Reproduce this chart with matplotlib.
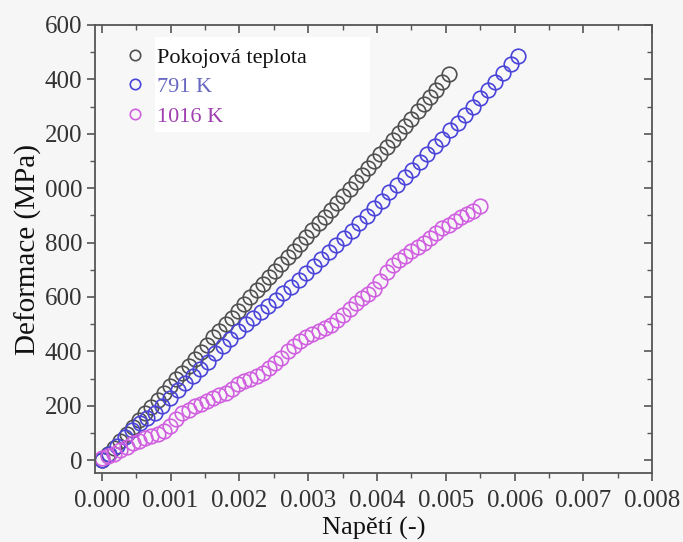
import numpy as np
import matplotlib.pyplot as plt
from matplotlib.lines import Line2D
from matplotlib.patches import Rectangle

plt.rcParams['font.family'] = ['Liberation Serif', 'DejaVu Serif']

# strain (x 1e-3) and stress (MPa)
room_x = [0.00, 0.09, 0.18, 0.27, 0.36, 0.45, 0.54, 0.63, 0.72, 0.81, 0.90, 0.99,
          1.08, 1.17, 1.26, 1.35, 1.44, 1.53, 1.62, 1.71, 1.80, 1.89, 1.98, 2.07,
          2.16, 2.25, 2.34, 2.43, 2.52, 2.61, 2.70, 2.79, 2.88, 2.97, 3.06, 3.15,
          3.24, 3.33, 3.42, 3.51, 3.60, 3.69, 3.78, 3.87, 3.96, 4.05, 4.14, 4.23,
          4.32, 4.41, 4.50, 4.59, 4.68, 4.77, 4.86, 4.95, 5.04]
room_y = [0, 22, 46, 71, 97, 122, 148, 172, 197, 222, 247, 272,
          297, 321, 347, 372, 398, 425, 452, 475, 500, 524, 550, 575,
          600, 624, 648, 672, 697, 722, 746, 770, 795, 820, 846, 870,
          895, 920, 946, 972, 998, 1022, 1048, 1073, 1098, 1124, 1150, 1176,
          1202, 1228, 1255, 1282, 1309, 1336, 1362, 1389, 1418]

k791_x = [0.00, 0.11, 0.22, 0.33, 0.44, 0.55, 0.66, 0.77, 0.88, 0.99, 1.10, 1.21,
          1.32, 1.43, 1.54, 1.65, 1.76, 1.87, 1.98, 2.09, 2.20, 2.31, 2.42, 2.53,
          2.64, 2.75, 2.86, 2.97, 3.08, 3.19, 3.30, 3.41, 3.52, 3.63, 3.74, 3.85,
          3.96, 4.07, 4.18, 4.29, 4.40, 4.51, 4.62, 4.73, 4.84, 4.95, 5.06, 5.17,
          5.28, 5.39, 5.50, 5.61, 5.72, 5.83, 5.94, 6.05]
k791_y = [0, 24, 52, 84, 110, 135, 153, 174, 200, 228, 256, 284,
          310, 336, 362, 392, 420, 444, 474, 500, 524, 546, 566, 590,
          614, 636, 662, 688, 712, 738, 764, 790, 815, 842, 870, 898,
          926, 954, 984, 1012, 1040, 1068, 1096, 1124, 1154, 1182, 1212, 1240,
          1270, 1298, 1330, 1360, 1392, 1424, 1455, 1484]

k1016_x = [0.00, 0.09, 0.18, 0.27, 0.36, 0.45, 0.54, 0.63, 0.72, 0.81, 0.90, 0.99,
           1.08, 1.17, 1.26, 1.35, 1.44, 1.53, 1.62, 1.71, 1.80, 1.89, 1.98, 2.07,
           2.16, 2.25, 2.34, 2.43, 2.52, 2.61, 2.70, 2.79, 2.88, 2.97, 3.06, 3.15,
           3.24, 3.33, 3.42, 3.51, 3.60, 3.69, 3.78, 3.87, 3.96, 4.05, 4.14, 4.23,
           4.32, 4.41, 4.50, 4.59, 4.68, 4.77, 4.86, 4.95, 5.04, 5.13, 5.22, 5.31,
           5.40, 5.49]
k1016_y = [8, 14, 24, 36, 48, 62, 72, 80, 88, 96, 108, 126,
           150, 172, 186, 198, 208, 218, 228, 238, 246, 262, 280, 290,
           300, 310, 322, 338, 356, 376, 400, 420, 438, 452, 462, 474,
           484, 498, 516, 534, 556, 578, 596, 612, 630, 660, 690, 718,
           736, 752, 768, 784, 800, 818, 836, 852, 866, 878, 892, 904,
           916, 934]

labels = ['Pokojová teplota', '791 K', '1016 K']
marker_colors = ['#505050', '#4a44d8', '#d060e0']
text_colors = ['#111111', '#6868c0', '#a040b0']

y_ticks = [0, 200, 400, 600, 800, 1000, 1200, 1400, 1600]
y_ticklabels = ['0', '200', '400', '600', '800', '000', '200', '400', '600']
x_ticks = [0.000, 0.001, 0.002, 0.003, 0.004, 0.005, 0.006, 0.007, 0.008]

fig = plt.figure(figsize=(6.83, 5.42), dpi=100, facecolor='#f6f6f6')
ax = fig.add_axes([0.139, 0.127, 0.816, 0.827], facecolor='#f7f7f7')

series = [(room_x, room_y), (k791_x, k791_y), (k1016_x, k1016_y)]
for (xs, ys), c in zip(series, marker_colors):
    ax.plot(np.array(xs) * 1e-3, ys, 'o', ms=10.5, mfc='none', mec=c, mew=1.2)

ax.set_xlim(-0.0001, 0.008)
ax.set_ylim(-48, 1600)
ax.set_xticks(x_ticks)
ax.set_xticklabels(['%.3f' % v for v in x_ticks])
ax.set_yticks(y_ticks)
ax.set_yticklabels(y_ticklabels)
ax.set_xticks(np.arange(0, 0.0081, 0.0005), minor=True)
ax.set_yticks(np.arange(0, 1601, 100), minor=True)

ax.tick_params(which='both', colors='#555555', labelcolor='#333333', labelsize=18)
ax.tick_params(which='major', length=6, width=1.2)
ax.tick_params(which='minor', length=3.5, width=1.0)
ax.tick_params(which='both', top=True, right=True, labeltop=False, labelright=False)
ax.tick_params(axis='x', which='both', direction='out', pad=6)
ax.tick_params(axis='y', which='both', direction='out', pad=3)
# top / right ticks point inward
for t in ax.xaxis.get_major_ticks() + ax.xaxis.get_minor_ticks():
    t.tick2line.set_marker(3)
for t in ax.yaxis.get_major_ticks() + ax.yaxis.get_minor_ticks():
    t.tick2line.set_marker(0)
for s in ax.spines.values():
    s.set_color('#555555')
    s.set_linewidth(1.3)

ax.set_xlabel('Napětí (-)', fontsize=19, color='#111111', labelpad=4)
ax.set_ylabel('Deformace (MPa)', fontsize=21, color='#111111', labelpad=2)

# white patch behind legend text
ax.add_patch(Rectangle((0.108, 0.762), 0.386, 0.21, transform=ax.transAxes,
                       facecolor='white', edgecolor='none', zorder=1))

handles = [Line2D([], [], marker='o', ls='none', ms=7.5, mfc='none', mec=c, mew=1.2)
           for c in marker_colors]
leg = ax.legend(handles, labels, loc='upper left', bbox_to_anchor=(0.04, 0.97),
                frameon=False, fontsize=16, handlelength=0.8, handletextpad=0.6,
                labelspacing=0.4, borderaxespad=0)
for txt, c in zip(leg.get_texts(), text_colors):
    txt.set_color(c)
leg.set_zorder(3)

fig.savefig('out.png', dpi=100, facecolor=fig.get_facecolor())
